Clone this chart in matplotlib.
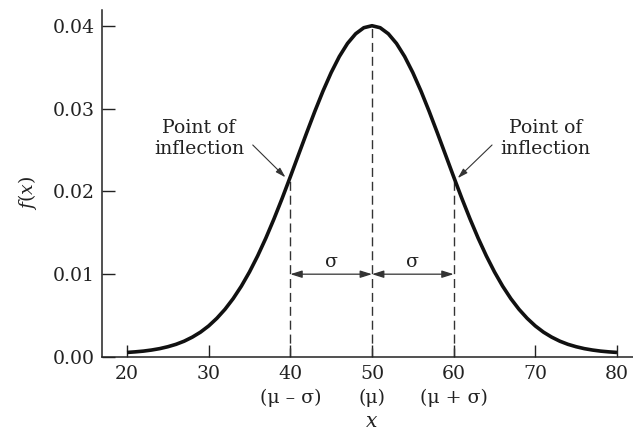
import matplotlib
matplotlib.use("Agg")
import matplotlib.pyplot as plt
import numpy as np

# ── data ─────────────────────────────────────────────────────────────────────
x_vals = list(range(20, 81))
fx_vals = [
    0.00055, 0.00062, 0.00071, 0.00084, 0.00101, 0.00124, 0.00153, 0.00191,
    0.00240, 0.00300, 0.00375, 0.00467, 0.00576, 0.00705, 0.00855, 0.01027,
    0.01221, 0.01435, 0.01668, 0.01916, 0.02176, 0.02442, 0.02707, 0.02966,
    0.03211, 0.03434, 0.03628, 0.03786, 0.03903, 0.03976, 0.04000,
    0.03976, 0.03903, 0.03786, 0.03628, 0.03434, 0.03211, 0.02966, 0.02707,
    0.02442, 0.02176, 0.01916, 0.01668, 0.01435, 0.01221, 0.01027, 0.00855,
    0.00705, 0.00576, 0.00467, 0.00375, 0.00300, 0.00240, 0.00191, 0.00153,
    0.00124, 0.00101, 0.00084, 0.00071, 0.00062, 0.00055,
]
mu, sigma = 50, 10
marks = [40, 50, 60]
mark_labels = ["(\u03bc \u2013 \u03c3)", "(\u03bc)", "(\u03bc + \u03c3)"]
x_ticks = [20, 30, 40, 50, 60, 70, 80]
y_ticks = [0.00, 0.01, 0.02, 0.03, 0.04]

# ── style ─────────────────────────────────────────────────────────────────────
plt.rcParams["font.family"] = "DejaVu Serif"
plt.rcParams["mathtext.fontset"] = "dejavuserif"
FS = 13.6
INK = "#222222"

fig = plt.figure(figsize=(6.33, 4.37), dpi=100)
ax = fig.add_axes([102 / 633, 80 / 437, 531 / 633, 347 / 437])

# curve
ax.plot(x_vals, fx_vals, color="#111111", lw=2.6, solid_capstyle="butt", zorder=3)

# dashed drop lines up to the curve
lookup = dict(zip(x_vals, fx_vals))
for m in marks:
    ax.plot([m, m], [0, lookup[m]], color="#333333", lw=1.0,
            dashes=(6.5, 3.5), zorder=2)

# sigma arrows
for a, b in [(mu - sigma, mu), (mu, mu + sigma)]:
    ax.annotate("", xy=(b, 0.01), xytext=(a, 0.01),
                arrowprops=dict(arrowstyle="<|-|>,head_length=0.7,head_width=0.22",
                                color="#333333", lw=0.9, shrinkA=0, shrinkB=0))
    ax.text((a + b) / 2, 0.0115, "\u03c3", ha="center", va="center",
            fontsize=FS, color=INK)

# inflection labels
ax.text(28.8, 0.0264, "Point of\ninflection", ha="center", va="center",
        fontsize=FS, color=INK, linespacing=1.25)
ax.text(71.2, 0.0264, "Point of\ninflection", ha="center", va="center",
        fontsize=FS, color=INK, linespacing=1.25)
ax.annotate("", xy=(39.4, 0.0217), xytext=(35.4, 0.0256),
            arrowprops=dict(arrowstyle="-|>,head_length=0.6,head_width=0.18",
                            color="#333333", lw=0.8, shrinkA=0, shrinkB=0))
ax.annotate("", xy=(60.5, 0.0216), xytext=(64.7, 0.0256),
            arrowprops=dict(arrowstyle="-|>,head_length=0.6,head_width=0.18",
                            color="#333333", lw=0.8, shrinkA=0, shrinkB=0))

# axes
ax.set_xlim(16.94, 81.96)
ax.set_ylim(0, 0.0419)
for s in ["top", "right"]:
    ax.spines[s].set_visible(False)
for s in ["left", "bottom"]:
    ax.spines[s].set_color("#222222")
    ax.spines[s].set_linewidth(1.1)

ax.set_xticks(x_ticks)
ax.set_yticks(y_ticks)
ax.set_yticklabels([f"{v:.2f}" for v in y_ticks])
ax.tick_params(axis="both", direction="in", colors="#222222", width=1.0,
               labelsize=FS, labelcolor=INK)
ax.tick_params(axis="y", length=9.5, pad=5)
ax.tick_params(axis="x", length=8.5, pad=6)

# second row of x labels
for m, lab in zip(marks, mark_labels):
    ax.text(m, -0.118, lab, transform=ax.get_xaxis_transform(),
            ha="center", va="center", fontsize=FS, color=INK)

ax.text(50, -0.187, "$x$", transform=ax.get_xaxis_transform(),
        ha="center", va="center", fontsize=FS + 1, color=INK)
ax.text(-0.141, 0.0198, "$f(x)$", transform=ax.get_yaxis_transform(),
        ha="center", va="center", rotation=90, fontsize=FS, color=INK)

fig.savefig("out.png", dpi=100)
